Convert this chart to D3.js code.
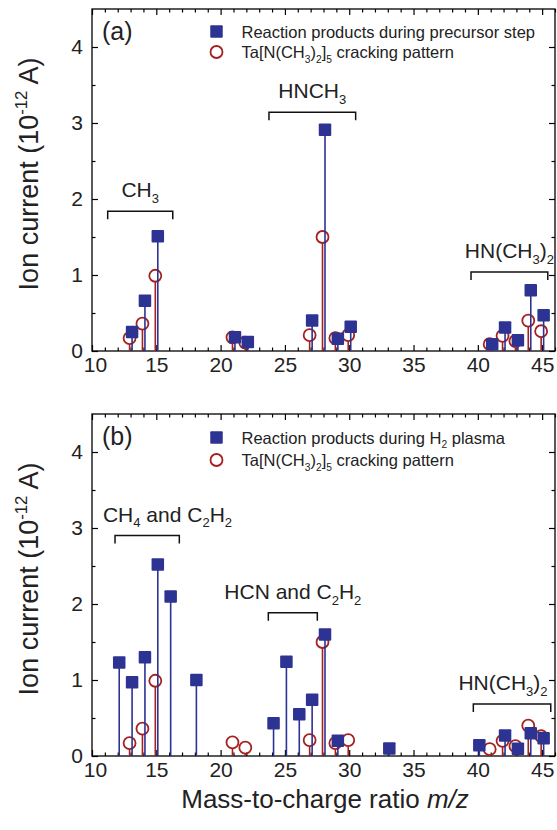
<!DOCTYPE html>
<html>
<head>
<meta charset="utf-8">
<script src="https://cdn.jsdelivr.net/npm/d3@7/dist/d3.min.js"></script>
<style>
  html, body { margin: 0; padding: 0; background: #fff; }
  svg { display: block; font-family: "Liberation Sans", Arial, Helvetica, sans-serif; }
</style>
</head>
<body>
<svg id="chart" width="557" height="830"></svg>
<script>
// Mass-to-charge values and ion currents (10^-12 A)
const crackMz      = [13, 14, 15, 21, 22, 27, 28, 29, 30, 41, 42, 43, 44, 45];
const crackCurrent = [0.17, 0.36, 0.99, 0.18, 0.11, 0.21, 1.50, 0.17, 0.21, 0.09, 0.20, 0.13, 0.40, 0.26];

const precursorMz      = [13, 14, 15, 21, 22, 27, 28, 29, 30, 41, 42, 43, 44, 45];
const precursorCurrent = [0.25, 0.66, 1.51, 0.18, 0.12, 0.40, 2.91, 0.16, 0.32, 0.09, 0.31, 0.14, 0.80, 0.47];

const plasmaMz      = [12, 13, 14, 15, 16, 18, 24, 25, 26, 27, 28, 29, 33, 40, 42, 43, 44, 45];
const plasmaCurrent = [1.23, 0.97, 1.30, 2.52, 2.10, 1.00, 0.43, 1.24, 0.55, 0.74, 1.60, 0.20, 0.10, 0.14, 0.27, 0.095, 0.30, 0.235];

const xTickLabels = [10, 15, 20, 25, 30, 35, 40, 45];
const yTickLabels = [0, 1, 2, 3, 4];

// Group brackets: label pieces, span x0..x1 (m/z) and height y (current)
const bracketsA = [
  { text: [["CH"], ["3", "sub"]], x0: 11.22, x1: 16.28, y: 1.84 },
  { text: [["HNCH"], ["3", "sub"]], x0: 23.76, x1: 30.5, y: 3.14 },
  { text: [["HN(CH"], ["3", "sub"], [")"], ["2", "sub"]], x0: 39.47, x1: 45.44, y: 1.04 }
];
const bracketsB = [
  { text: [["CH"], ["4", "sub"], [" and C"], ["2", "sub"], ["H"], ["2", "sub"]], x0: 11.79, x1: 16.79, y: 2.90, textStart: 10.85 },
  { text: [["HCN and C"], ["2", "sub"], ["H"], ["2", "sub"]], x0: 23.71, x1: 27.52, y: 1.885 },
  { text: [["HN(CH"], ["3", "sub"], [")"], ["2", "sub"]], x0: 39.65, x1: 45.67, y: 0.684, shift: -0.7 }
];

const BLUE = "#2c3393";
const RED = "#a3211f";

const svg = d3.select("#chart");
const x = d3.scaleLinear().domain([10, 46]).range([92, 555]);

// Writes text made of plain / subscript / superscript pieces into a <text>
function richText(sel, parts, size) {
  let shift = 0;
  parts.forEach(([t, kind]) => {
    const ts = sel.append("tspan").text(t);
    let target = 0;
    if (kind === "sub") { ts.attr("font-size", size * 0.62); target = size * 0.28; }
    else if (kind === "sup") { ts.attr("font-size", size * 0.62); target = -size * 0.42; }
    else if (kind === "it") { ts.attr("font-style", "italic"); }
    if (target !== shift) ts.attr("dy", target - shift);
    shift = target;
  });
  return sel;
}

function panel(cfg) {
  const y = d3.scaleLinear().domain([0, 4.5]).range([cfg.bottom, cfg.top]);
  const g = svg.append("g");

  // axes, ticks pointing inward on all four sides
  const minorX = d3.range(10, 47, 1).filter(v => v % 5 !== 0);
  const minorY = d3.range(0.5, 4.5, 1);
  const axes = [
    [d3.axisBottom(x).tickValues(xTickLabels).tickFormat(d3.format("d")), cfg.bottom, "x"],
    [d3.axisTop(x).tickValues(xTickLabels).tickFormat(""), cfg.top, "x"],
    [d3.axisLeft(y).tickValues(yTickLabels).tickFormat(d3.format("d")), 92, "y"],
    [d3.axisRight(y).tickValues(yTickLabels).tickFormat(""), 555, "y"]
  ];
  axes.forEach(([ax, pos, dir]) => {
    const tr = dir === "x" ? `translate(0,${pos})` : `translate(${pos},0)`;
    const a = g.append("g").attr("transform", tr)
      .call(ax.tickSizeInner(-6).tickSizeOuter(0).tickPadding(dir === "x" ? 6 : 9));
    a.select(".domain").remove();
    a.selectAll("line").attr("stroke", "#000").attr("stroke-width", 1.2);
    a.selectAll("text").attr("font-size", 21).attr("fill", "#222")
      .attr("font-family", "'Liberation Sans', Arial, sans-serif");
    // the corner label "10" sits a little right so it clears the "0" of the y axis
    if (dir === "x") a.selectAll(".tick text").filter(d => d === 10).attr("dx", 3);
    // minor ticks
    const m = dir === "x" ? minorX : minorY;
    const mAx = (dir === "x" ? (pos === cfg.bottom ? d3.axisBottom(x) : d3.axisTop(x))
                             : (pos === 92 ? d3.axisLeft(y) : d3.axisRight(y)))
      .tickValues(m).tickFormat("").tickSizeInner(-3.5).tickSizeOuter(0);
    const b = g.append("g").attr("transform", tr).call(mAx);
    b.select(".domain").remove();
    b.selectAll("line").attr("stroke", "#000").attr("stroke-width", 1.2);
  });

  g.append("rect")
    .attr("x", 92).attr("y", cfg.top)
    .attr("width", 555 - 92).attr("height", cfg.bottom - cfg.top)
    .attr("fill", "none").attr("stroke", "#000").attr("stroke-width", 1.3);

  // brackets with group labels
  cfg.brackets.forEach(b => {
    const by = y(b.y), x0 = x(b.x0), x1 = x(b.x1);
    g.append("path")
      .attr("d", `M${x0},${by + 8}V${by}H${x1}V${by + 8}`)
      .attr("fill", "none").attr("stroke", "#111").attr("stroke-width", 1.5);
    const t = g.append("text")
      .attr("y", by - 14).attr("font-size", 21).attr("fill", "#222");
    if (b.textStart !== undefined) t.attr("x", x(b.textStart)).attr("text-anchor", "start");
    else t.attr("x", (x0 + x1) / 2 + (b.shift || 0) * (x(1) - x(0))).attr("text-anchor", "middle");
    richText(t, b.text, 21);
  });

  // cracking pattern: red stems and open circles
  const R = 6;
  const crack = crackMz.map((m, i) => ({ m, v: crackCurrent[i] }));
  g.append("g").selectAll("line").data(crack).join("line")
    .attr("x1", d => x(d.m) - 1).attr("x2", d => x(d.m) - 1)
    .attr("y1", d => y(d.v) + R).attr("y2", cfg.bottom)
    .attr("stroke", RED).attr("stroke-width", 1.6);
  g.append("g").selectAll("circle").data(crack).join("circle")
    .attr("cx", d => x(d.m) - 1).attr("cy", d => y(d.v)).attr("r", R)
    .attr("fill", "none").attr("stroke", RED).attr("stroke-width", 1.8);

  // measured products: blue stems and filled squares
  const S = 12.5;
  const prod = cfg.mz.map((m, i) => ({ m, v: cfg.values[i] }));
  g.append("g").selectAll("line").data(prod).join("line")
    .attr("x1", d => x(d.m) + 1.5).attr("x2", d => x(d.m) + 1.5)
    .attr("y1", d => y(d.v)).attr("y2", cfg.bottom)
    .attr("stroke", BLUE).attr("stroke-width", 1.6);
  g.append("g").selectAll("rect").data(prod).join("rect")
    .attr("x", d => x(d.m) + 1.5 - S / 2).attr("y", d => y(d.v) - S / 2)
    .attr("width", S).attr("height", S).attr("rx", 1)
    .attr("fill", BLUE);

  // panel letter
  g.append("text").attr("x", 102).attr("y", cfg.top + 31)
    .attr("font-size", 25).attr("fill", "#222").text(cfg.letter);

  // legend
  const lx = 216.5, ly1 = cfg.top + cfg.leg[0], ly2 = cfg.top + cfg.leg[1];
  g.append("rect").attr("x", lx - S / 2).attr("y", ly1 - S / 2)
    .attr("width", S).attr("height", S).attr("rx", 1).attr("fill", BLUE);
  g.append("circle").attr("cx", lx).attr("cy", ly2).attr("r", R)
    .attr("fill", "none").attr("stroke", RED).attr("stroke-width", 1.8);
  richText(g.append("text").attr("x", 241.5).attr("y", ly1 + 6)
    .attr("font-size", 16.5).attr("fill", "#222"), cfg.legendText, 16.5);
  richText(g.append("text").attr("x", 241.5).attr("y", ly2 + 6)
    .attr("font-size", 16.5).attr("fill", "#222"),
    [["Ta[N(CH"], ["3", "sub"], [")"], ["2", "sub"], ["]"], ["5", "sub"], [" cracking pattern"]], 16.5);

  // y-axis title
  const yt = g.append("text")
    .attr("transform", `translate(38,${(cfg.top + cfg.bottom) / 2 - 6}) rotate(-90)`)
    .attr("text-anchor", "middle").attr("font-size", 27).attr("fill", "#222");
  richText(yt, [["Ion current (10"], ["-12", "sup"], [" A)"]], 27);
}

panel({
  top: 9, bottom: 351, letter: "(a)", leg: [22.5, 43],
  mz: precursorMz, values: precursorCurrent, brackets: bracketsA,
  legendText: [["Reaction products during precursor step"]]
});
panel({
  top: 414, bottom: 756, letter: "(b)", leg: [23.5, 46],
  mz: plasmaMz, values: plasmaCurrent, brackets: bracketsB,
  legendText: [["Reaction products during H"], ["2", "sub"], [" plasma"]]
});

// x-axis title
richText(svg.append("text").attr("x", 325).attr("y", 808)
  .attr("text-anchor", "middle").attr("font-size", 26).attr("fill", "#222"),
  [["Mass-to-charge ratio "], ["m/z", "it"]], 26);
</script>
</body>
</html>
